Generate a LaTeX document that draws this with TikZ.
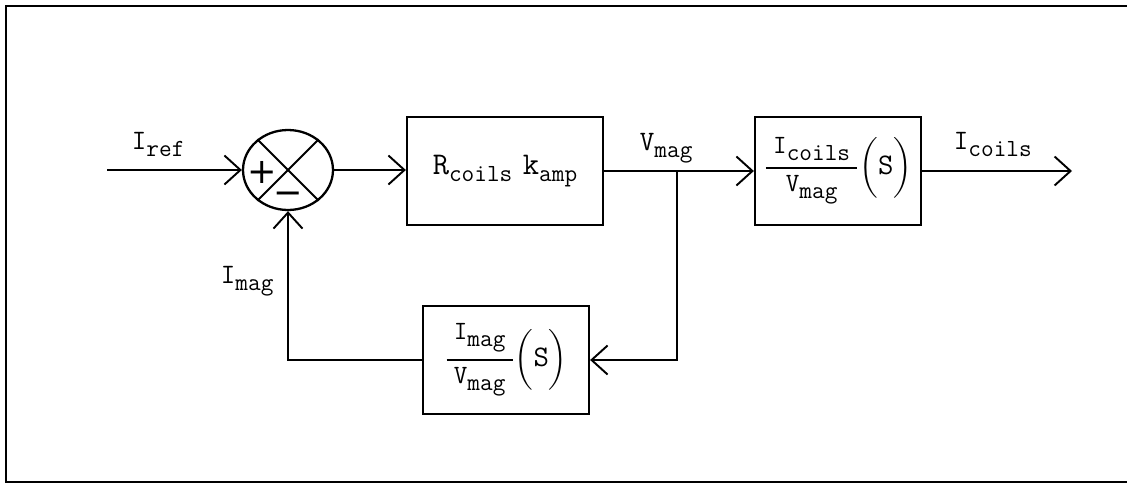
\documentclass[tikz,border=0pt]{standalone}
\usepackage{amsmath}
\usepackage{fontspec}
\newfontfamily\signfont{DejaVu Sans}
\usetikzlibrary{arrows.meta,positioning,shapes.geometric}

% signal name with a dropped subscript
\newcommand{\sig}[3][16]{{\fontsize{#1}{#1}\selectfont #2}\raisebox{-4pt}{\fontsize{14}{14}\selectfont #3}}
% transfer function block content
\newcommand{\blockfn}[2]{$\genfrac{}{}{1.2pt}{0}{\mbox{\;\sig[15]{I}{#1}\;}}{\mbox{\sig[15]{V}{#2}}}\biggl(\mbox{\fontsize{17}{17}\selectfont S}\biggr)$}

\begin{document}
\begin{tikzpicture}[
  x=0.02cm, y=-0.02cm,
  line width=1.1pt,
  font=\ttfamily,
  >={Straight Barb[length=3.2mm,width=5.8mm]},
  % block styles
  block/.style={
    draw, line width=1.3pt, minimum width=3.32cm, minimum height=2.16cm,
    align=center, inner sep=0pt, font=\ttfamily\fontsize{15}{18}\selectfont
  },
  summer/.style={
    draw, ellipse, line width=1.3pt, minimum width=1.8cm, minimum height=1.6cm
  },
  sign/.style={inner sep=0pt, font=\signfont\fontsize{20}{20}\selectfont},
  siglabel/.style={anchor=base west, inner sep=0pt},
  arrow/.style={->}
]
\useasboundingbox (0,0) rectangle (1127,484);

% -- frame ---------------------------------------------------------------
\draw[line width=1.6pt] (1127,6) -- (6,6) -- (6,482) -- (1127,482);

% -- forward path --------------------------------------------------------
\coordinate (in) at (107,170);
\node[summer] (sum) at (288,170) {};
\draw (sum.45) -- (sum.225);
\draw (sum.135) -- (sum.-45);
\node[sign] (plus) at (262,172) {+};
\node[sign] (minus) at (288,198) {−};

\node[block, minimum width=3.92cm] (amp) at (505,171)
  {\sig[18]{R}{coils}\hspace{6pt}\sig[18]{k}{amp}};
\node[block] (coils) at (838,171) {\blockfn{coils}{mag}};
\coordinate (out) at (1072,171);

% -- feedback path -------------------------------------------------------
\node[block] (mag) at (506,360) {\blockfn{mag}{mag}};
\coordinate (split) at (677,171);

% -- signal labels -------------------------------------------------------
\node[siglabel] (lref) at (131,149) {\sig{I}{ref}};
\node[siglabel] (lvmag) at (639,150) {\sig{V}{mag}};
\node[siglabel] (lcoils) at (953,149) {\sig{I}{coils}};
\node[siglabel] (limag) at (220,283) {\sig{I}{mag}};

% -- connectors ----------------------------------------------------------
\draw[arrow] (in) -- (sum.west);
\draw[arrow] (sum.east) -- (amp.west |- sum.east);
\draw[arrow] (amp.east) -- (coils.west);
\draw[arrow] (coils.east) -- (out);
\draw[arrow] (split) |- (mag.east);
\draw[arrow] (mag.west) -| (sum.south);

\end{tikzpicture}
\end{document}
